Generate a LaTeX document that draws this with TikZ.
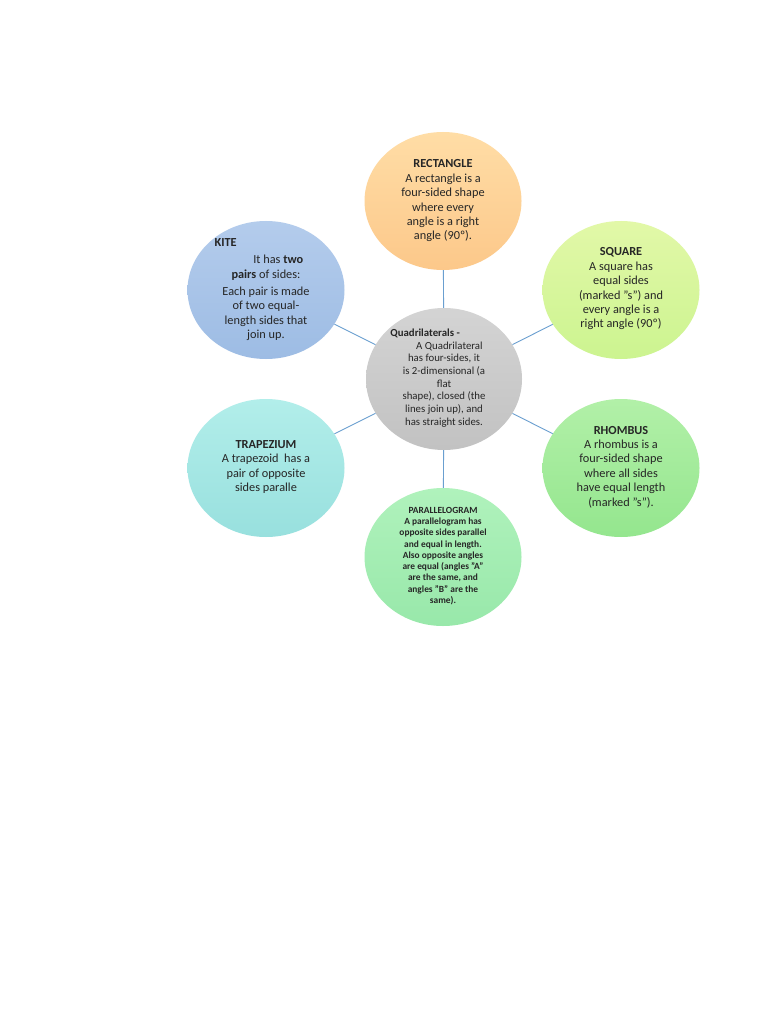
\documentclass[tikz,border=0pt]{standalone}
\usepackage{fontspec}
\setmainfont{Carlito}
\usetikzlibrary{shapes.geometric}
\definecolor{lnk}{HTML}{6A9FD0}
\definecolor{rA}{HTML}{FFDDA6}\definecolor{rB}{HTML}{FCC88A}
\definecolor{kA}{HTML}{B4CCEC}\definecolor{kB}{HTML}{9DBCE4}
\definecolor{sA}{HTML}{E2F8A8}\definecolor{sB}{HTML}{CCF490}
\definecolor{tA}{HTML}{B2EEEA}\definecolor{tB}{HTML}{98E0DE}
\definecolor{hA}{HTML}{B2F0A8}\definecolor{hB}{HTML}{94E68E}
\definecolor{pA}{HTML}{B0F2BC}\definecolor{pB}{HTML}{98E8AA}
\begin{document}
\begin{tikzpicture}[x=1pt,y=-1pt,
  bub/.style={ellipse,minimum width=157pt,minimum height=138pt,inner sep=0pt},
  txt/.style={align=center,font=\fontsize{12.3}{14.4}\selectfont,text=black!85},
  con/.style={draw=lnk,line width=0.9pt}]
\useasboundingbox (0,0) rectangle (768,1024);
\fill[white] (0,0) rectangle (768,1024);
\node[bub,top color=rA,bottom color=rB] (rect) at (443,201) {};
\node[bub,top color=kA,bottom color=kB] (kite) at (266,290) {};
\node[bub,top color=sA,bottom color=sB] (sq) at (621,290) {};
\node[bub,top color=tA,bottom color=tB] (trap) at (266,468) {};
\node[bub,top color=hA,bottom color=hB] (rho) at (621,468) {};
\node[bub,top color=pA,bottom color=pB] (par) at (443,557) {};
\node[bub,minimum width=156pt,minimum height=142pt,top color=black!17,bottom color=black!24] (c) at (444,379) {};
\foreach \n in {rect,kite,sq,trap,rho,par} \draw[con] (c) -- (\n);
\node[txt] (trect) at (443,201) {\textbf{RECTANGLE}\\A rectangle is a\\four-sided shape\\where every\\angle is a right\\angle (90º).};
\node[txt,anchor=north west,align=left] (tkite) at (211,235) {\textbf{KITE}};
\node[txt] (tkite2) at (266,298) {\hspace*{2em}It has \textbf{two}\\\textbf{pairs} of sides:\\[3pt]Each pair is made\\of two equal-\\length sides that\\join up.};
\node[txt] (tsq) at (621,289) {\textbf{SQUARE}\\A square has\\equal sides\\(marked "s") and\\every angle is a\\right angle (90º)};
\node[txt] (ttrap) at (266,467) {\textbf{TRAPEZIUM}\\A trapezoid \ has a\\pair of opposite\\sides paralle};
\node[txt] (trho) at (621,467) {\textbf{RHOMBUS}\\A rhombus is a\\four-sided shape\\where all sides\\have equal length\\(marked "s").};
\node[txt,font=\bfseries\fontsize{9.4}{11.3}\selectfont] (tpar) at (443,556) {PARALLELOGRAM\\A parallelogram has\\opposite sides parallel\\and equal in length.\\Also opposite angles\\are equal (angles "A"\\are the same, and\\angles "B" are the\\same).};
\node[txt,font=\fontsize{10.8}{12.7}\selectfont] (tc) at (444,378) {\hspace*{-3.5em}\textbf{Quadrilaterals -}\\\hspace*{1em}A Quadrilateral\\has four-sides, it\\is 2-dimensional (a\\flat\\shape), closed (the\\lines join up), and\\has straight sides.};
\end{tikzpicture}
\end{document}
